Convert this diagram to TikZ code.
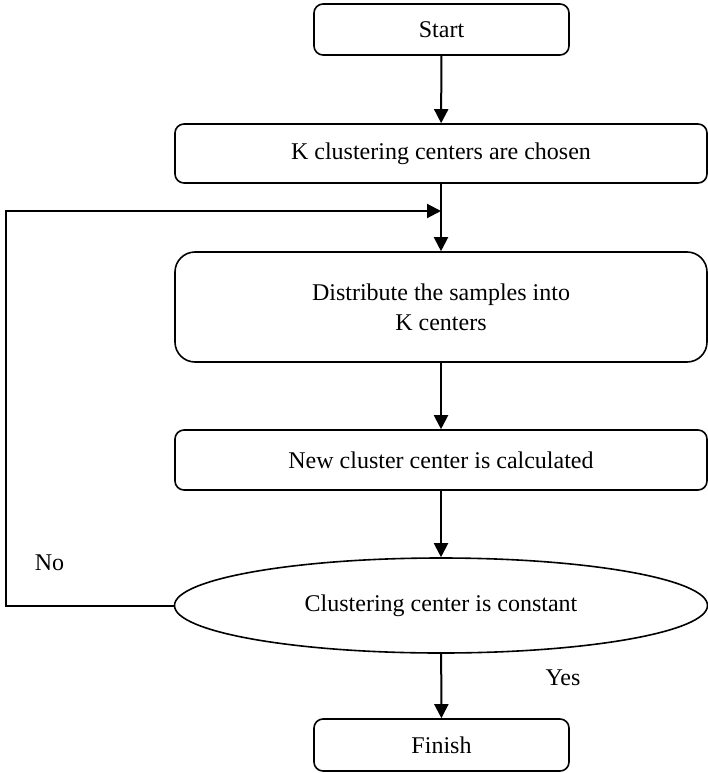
\documentclass[tikz,border=0pt]{standalone}
\usepackage{fontspec}
\setmainfont{Liberation Serif}
\usetikzlibrary{arrows.meta, shapes.geometric}
\tikzset{
  stepbox/.style={draw, line width=1.6pt, rounded corners=9pt, minimum width=255pt, minimum height=51pt, inner sep=0pt},
  widebox/.style={stepbox, minimum width=532pt, minimum height=59pt},
  flow/.style={line width=2pt, -{Triangle[length=14pt,width=14pt]}}
}
\begin{document}
\begin{tikzpicture}[x=1pt, y=-1pt, font=\fontsize{24}{30}\selectfont]
\useasboundingbox (0,0) rectangle (708,773);
\node[stepbox] (start) at (441.5,29.5) {Start};
\node[widebox] (chosen) at (441,153.5) {K clustering centers are chosen};
\node[widebox, minimum height=110pt, rounded corners=20pt, align=center] (distribute) at (441,307) {Distribute the samples into\\K centers};
\node[widebox, minimum height=60pt] (newcenter) at (441,460) {New cluster center is calculated};
\node[draw, ellipse, line width=1.6pt, minimum width=533pt, minimum height=95pt, inner sep=0pt] (constant) at (441,605.5) {Clustering center is constant};
\node[stepbox, minimum height=52pt] (finish) at (441.5,745) {Finish};
\node (no) at (49.5,563) {No};
\node (yes) at (563,678) {Yes};
\coordinate (join) at (441,211);
\coordinate (back) at (6,211);
\draw[flow] (start) -- (chosen);
\draw[flow] (chosen) -- (distribute);
\draw[flow] (distribute) -- (newcenter);
\draw[flow] (newcenter) -- (constant);
\draw[flow] (constant) -- (finish);
\draw[flow] (constant.west) -| (back) -- (join);
\end{tikzpicture}
\end{document}
